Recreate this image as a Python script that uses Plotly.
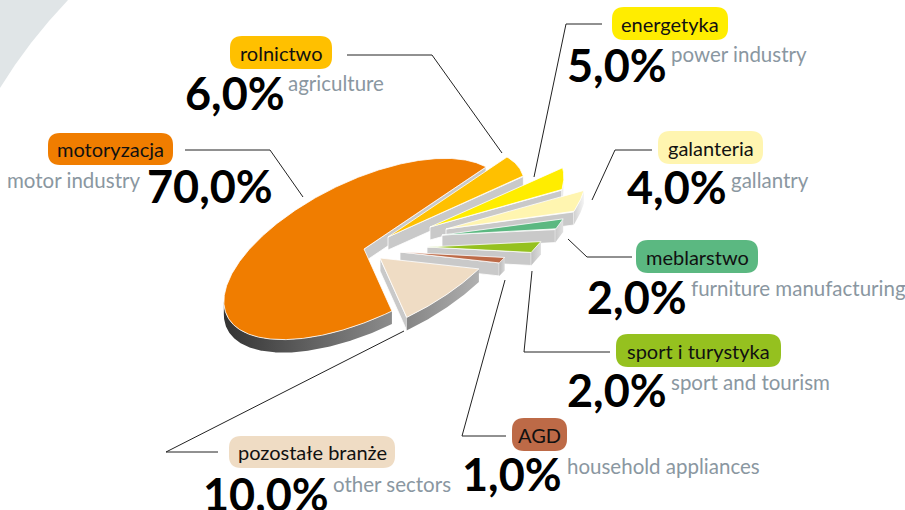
import math
import plotly.graph_objects as go

# ---- data (in pie order, clockwise on screen from the motor industry slice)
categories = ["motoryzacja", "pozostałe branże", "AGD", "sport i turystyka",
              "meblarstwo", "galanteria", "energetyka", "rolnictwo"]
categories_en = ["motor industry", "other sectors", "household appliances", "sport and tourism",
                 "furniture manufacturing", "gallantry", "power industry", "agriculture"]
values = [70.0, 10.0, 1.0, 2.0, 2.0, 4.0, 5.0, 6.0]

# ---- styles and layout
colors = ["#f07d00", "#efdcc4", "#bd6a47", "#95c11f", "#5bb881", "#fff5b0", "#ffed00", "#ffc000"]
apex = [(364, 249), (380, 258), (400, 252), (427, 247), (442, 235), (446, 229), (430, 227), (388, 237)]
radius = [1.0, .957, .96, .955, .95, 1.0, .955, .975]
band = [("#333333", "#8c8c8c"), ("#858585", "#b0b0b0"), ("#b8b8b8", "#d8d8d8"), ("#c0c0c0", "#dcdcdc"),
        ("#c8c8c8", "#e0e0e0"), ("#d0d0d0", "#f4f4f4"), ("#e4e4e4", "#fafafa"), ("#d8d8d8", "#eeeeee")]
draw_order = [0, 7, 6, 5, 4, 3, 2, 1]
AX, AY, BX, BY = 122, -82, -69, -38.6   # projection of the pie disc
DEPTH = 13
SIDE = "#c9c9c9"

pills = [(48, 173, 133, 165), (229, 395, 436, 468), (512, 567, 418, 451), (616, 781, 334, 367),
         (636, 758, 240, 273), (658, 763, 131, 164), (612, 728, 7, 40), (230, 332, 36, 69)]
pct_pos = [(275, 186), (331, 494), (564, 474), (669, 390), (689, 297), (729, 187), (669, 65), (287, 93)]
en_pos = [(142, 180), (331, 484), (565, 466), (669, 382), (689, 288), (729, 180), (669, 54), (286, 83)]
en_anchor = ["right", "left", "left", "left", "left", "left", "left", "left"]
leaders = [[(185, 150), (270, 150), (303, 197)], [(218, 452), (166, 452), (404, 331)],
           [(506, 436), (462, 436), (505, 280)], [(610, 352), (524, 352), (532, 271)],
           [(632, 257), (587, 257), (568, 239)], [(652, 150), (615, 150), (592, 200)],
           [(602, 24), (566, 24), (534, 177)], [(347, 55), (432, 55), (502, 153)]]
GREY_TEXT = "#8a97a1"
FONT = "Lato"

fig = go.Figure()


def poly(xs, ys, fill, line=None, gradient=None):
    kw = dict(x=xs, y=ys, mode="lines", fill="toself", hoverinfo="skip", showlegend=False)
    if line:
        kw["line"] = dict(color=line, width=0.8)
    else:
        kw["line"] = dict(width=0)
    if gradient:
        kw["fillgradient"] = dict(type="horizontal", colorscale=[[0, gradient[0]], [1, gradient[1]]])
    else:
        kw["fillcolor"] = fill
    fig.add_trace(go.Scatter(**kw))


total = sum(values)
starts, t = [], 0.0
for v in values:
    starts.append(t)
    t += v / total * 360


def point(i, deg):
    th = math.radians(deg)
    r = radius[i]
    return (apex[i][0] + r * (AX * math.cos(th) + BX * math.sin(th)),
            apex[i][1] + r * (AY * math.cos(th) + BY * math.sin(th)))


for i in draw_order:
    a0 = starts[i]
    a1 = a0 + values[i] / total * 360
    n = max(4, int((a1 - a0) * 2))
    degs = [a0 + (a1 - a0) * k / n for k in range(n + 1)]
    arc = [point(i, d) for d in degs]
    cx, cy = apex[i]
    # cut face along the start radius
    sx, sy = arc[0]
    poly([cx, sx, sx, cx, cx], [cy, sy, sy + DEPTH, cy + DEPTH, cy], SIDE, line="#ffffff")
    # rim: only the part of the arc that faces the viewer
    front = [p for p, q in zip(arc, arc[1:]) if q[0] > p[0]]
    if arc[-1][0] > arc[-2][0]:
        front.append(arc[-1])
    if len(front) > 1:
        xs = [p[0] for p in front] + [p[0] for p in reversed(front)] + [front[0][0]]
        ys = [p[1] for p in front] + [p[1] + DEPTH for p in reversed(front)] + [front[0][1]]
        poly(xs, ys, None, gradient=band[i])
    # top
    xs = [cx] + [p[0] for p in arc] + [cx]
    ys = [cy] + [p[1] for p in arc] + [cy]
    poly(xs, ys, colors[i], line="#ffffff")

# leader lines
for pts in leaders:
    fig.add_trace(go.Scatter(x=[p[0] for p in pts], y=[p[1] for p in pts], mode="lines",
                             line=dict(color="#222222", width=1), hoverinfo="skip", showlegend=False))


def rounded(x0, x1, y0, y1, r=12):
    return (f"M{x0 + r},{y0} L{x1 - r},{y0} Q{x1},{y0} {x1},{y0 + r} L{x1},{y1 - r} Q{x1},{y1} {x1 - r},{y1} "
            f"L{x0 + r},{y1} Q{x0},{y1} {x0},{y1 - r} L{x0},{y0 + r} Q{x0},{y0} {x0 + r},{y0} Z")


shapes = [dict(type="path", path="M0,0 L68,0 Q28,42 0,88 Z", fillcolor="#e0e5e7", line=dict(width=0), layer="below")]
annotations = []
for i, name in enumerate(categories):
    x0, x1, y0, y1 = pills[i]
    shapes.append(dict(type="path", path=rounded(x0, x1, y0, y1), fillcolor=colors[i], line=dict(width=0), layer="below"))
    annotations.append(dict(x=(x0 + x1) / 2, y=(y0 + y1) / 2, text=name, showarrow=False, xanchor="center", yanchor="middle",
                            font=dict(family=FONT, size=20, color="#111111")))
    px, py = pct_pos[i]
    annotations.append(dict(x=px, y=py, text=f"{values[i]:.1f}%".replace(".", ","), showarrow=False, xanchor="right", yanchor="middle",
                            font=dict(family=FONT, size=45, color="#000000", weight=700)))
    ex, ey = en_pos[i]
    annotations.append(dict(x=ex, y=ey, text=categories_en[i], showarrow=False, xanchor=en_anchor[i], yanchor="middle",
                            font=dict(family=FONT, size=20.5, color=GREY_TEXT)))

fig.update_layout(
    width=905, height=510, margin=dict(l=0, r=0, t=0, b=0),
    paper_bgcolor="white", plot_bgcolor="white", showlegend=False,
    xaxis=dict(range=[0, 905], visible=False, fixedrange=True),
    yaxis=dict(range=[510, 0], visible=False, fixedrange=True),
    shapes=shapes, annotations=annotations,
)
fig.write_html("out.html", config={"displayModeBar": False},
               post_script="document.body.style.margin='0';document.documentElement.style.overflow='hidden';")
